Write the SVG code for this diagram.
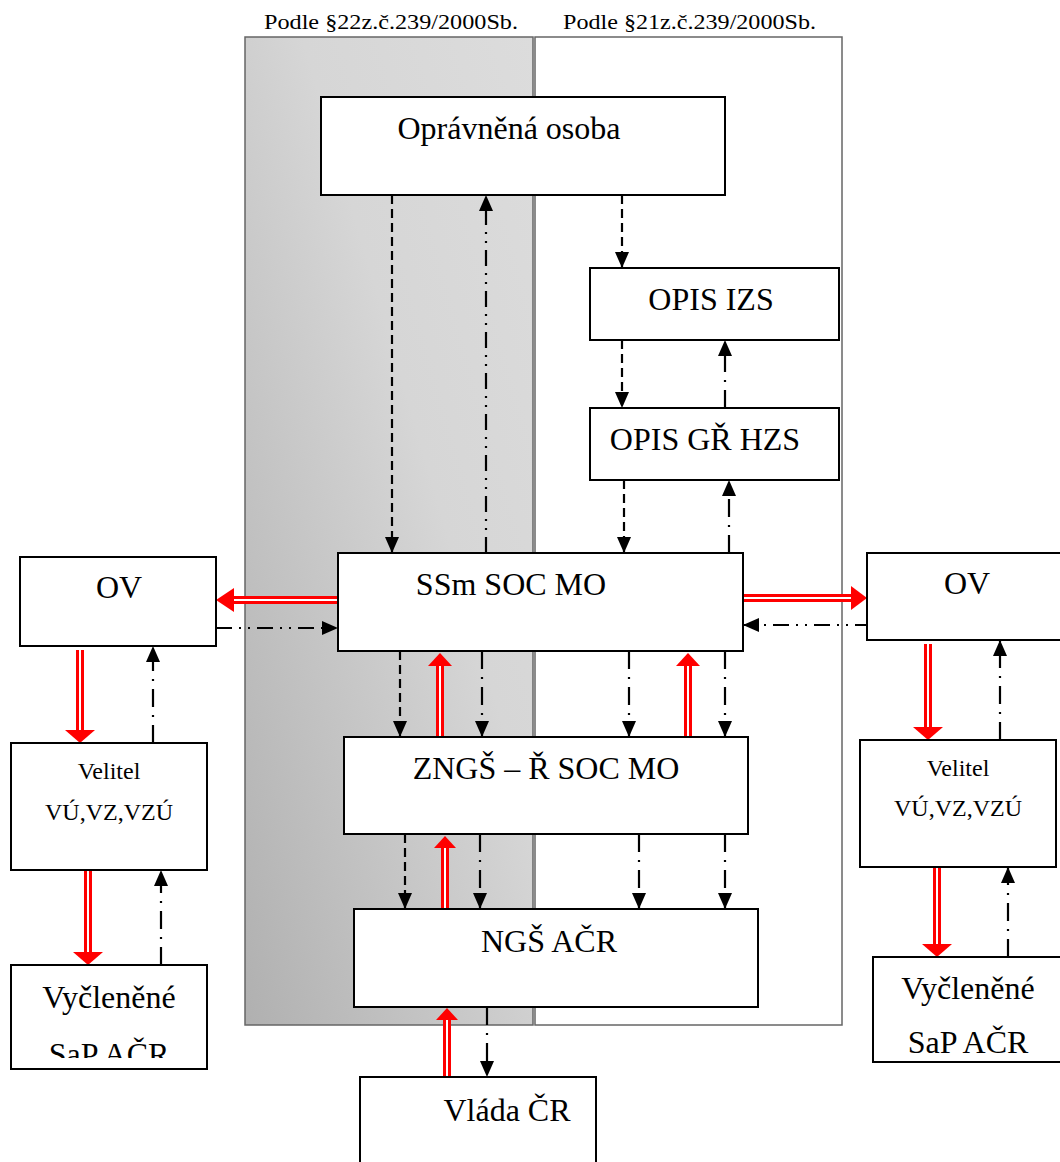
<svg xmlns="http://www.w3.org/2000/svg" width="1060" height="1162" viewBox="0 0 1060 1162">
<style>
.box{fill:#fff;stroke:#000;stroke-width:2}
.t{font-family:"Liberation Serif","Times New Roman",serif;fill:#000;text-anchor:middle}
.big{font-size:32px}
.sm{font-size:24px}
.hd{font-family:"Liberation Serif","Times New Roman",serif;font-size:22px;fill:#000}
.c{fill:none;stroke:#000;stroke-width:2.2}
.dash{stroke-dasharray:9 5}
.dd{stroke-dasharray:16 7 2 7 2 7}
.dot{stroke-dasharray:18 8 2 8}
.rw{fill:none;stroke:#f00;stroke-width:8}
.ri{fill:none;stroke:#fff;stroke-width:2}
.rh{fill:#f00}
</style>
<defs>
<linearGradient id="g" x1="0" y1="1" x2="1" y2="0">
<stop offset="0" stop-color="#b0b0b0"/>
<stop offset="0.6" stop-color="#d6d6d6"/>
<stop offset="1" stop-color="#dcdcdc"/>
</linearGradient>
<marker id="a" markerUnits="userSpaceOnUse" markerWidth="16" markerHeight="16" viewBox="0 0 16 14" refX="16" refY="7" orient="auto">
<path d="M0,0 L16,7 L0,14 z" fill="#000"/>
</marker>
<clipPath id="cl"><rect x="11" y="965" width="196" height="93"/></clipPath>
</defs>
<g id="panels">
<rect x="245" y="37" width="288" height="988" fill="url(#g)" stroke="#666" stroke-width="1.5"/>
<rect x="535" y="37" width="307" height="988" fill="#fff" stroke="#666" stroke-width="1.5"/>
<text class="hd" x="264" y="29" textLength="254" lengthAdjust="spacingAndGlyphs">Podle §22z.č.239/2000Sb.</text>
<text class="hd" x="563" y="29" textLength="253" lengthAdjust="spacingAndGlyphs">Podle §21z.č.239/2000Sb.</text>
</g>
<g id="connectors">
<path class="c dash" d="M392,195 V553" marker-end="url(#a)"/>
<path class="c dd" d="M486,553 V195" marker-end="url(#a)"/>
<path class="c dash" d="M622,195 V268" marker-end="url(#a)"/>
<path class="c dash" d="M622,340 V408" marker-end="url(#a)"/>
<path class="c dot" d="M725,408 V340" marker-end="url(#a)"/>
<path class="c dash" d="M624,480 V553" marker-end="url(#a)"/>
<path class="c dot" d="M729,553 V480" marker-end="url(#a)"/>
<path class="c dd" d="M216,628 H338" marker-end="url(#a)"/>
<path class="c dd" d="M871,625 H743" marker-end="url(#a)"/>
<path class="c dash" d="M400,651 V737" marker-end="url(#a)"/>
<path class="c dot" d="M482,651 V737" marker-end="url(#a)"/>
<path class="c dot" d="M629,651 V737" marker-end="url(#a)"/>
<path class="c dot" d="M725,651 V737" marker-end="url(#a)"/>
<path class="c dash" d="M405,834 V909" marker-end="url(#a)"/>
<path class="c dot" d="M480,834 V909" marker-end="url(#a)"/>
<path class="c dot" d="M639,834 V909" marker-end="url(#a)"/>
<path class="c dot" d="M725,834 V909" marker-end="url(#a)"/>
<path class="c dot" d="M487,1007 V1077" marker-end="url(#a)"/>
<path class="c dot" d="M153,743 V646" marker-end="url(#a)"/>
<path class="c dot" d="M161,965 V870" marker-end="url(#a)"/>
<path class="c dot" d="M1000,740 V640" marker-end="url(#a)"/>
<path class="c dot" d="M1008,957 V867" marker-end="url(#a)"/>
<path class="rw" d="M338,600 H234"/><path class="ri" d="M338,600 H232"/><polygon class="rh" points="234,588 216,600 234,612"/>
<path class="rw" d="M743,598 H851"/><path class="ri" d="M743,598 H853"/><polygon class="rh" points="851,586 867,598 851,610"/>
<path class="rw" d="M440,737 V666"/><path class="ri" d="M440,737 V664"/><polygon class="rh" points="428,666 440,653 452,666"/>
<path class="rw" d="M688,737 V666"/><path class="ri" d="M688,737 V664"/><polygon class="rh" points="676,666 688,653 700,666"/>
<path class="rw" d="M445,909 V848"/><path class="ri" d="M445,909 V846"/><polygon class="rh" points="434,848 445,836 456,848"/>
<path class="rw" d="M447,1077 V1020"/><path class="ri" d="M447,1077 V1018"/><polygon class="rh" points="436,1020 447,1008 458,1020"/>
<path class="rw" d="M80,650 V730"/><path class="ri" d="M80,650 V732"/><polygon class="rh" points="65,730 80,743 95,730"/>
<path class="rw" d="M88,870 V952"/><path class="ri" d="M88,870 V954"/><polygon class="rh" points="73,952 88,965 103,952"/>
<path class="rw" d="M928,644 V727"/><path class="ri" d="M928,644 V729"/><polygon class="rh" points="913,727 928,740 943,727"/>
<path class="rw" d="M937,867 V944"/><path class="ri" d="M937,867 V946"/><polygon class="rh" points="922,944 937,957 952,944"/>
</g>
<g id="n-opravnena"><rect class="box" x="321" y="97" width="404" height="98"/><text class="t big" x="509" y="139">Oprávněná osoba</text></g>
<g id="n-opisizs"><rect class="box" x="590" y="268" width="249" height="72"/><text class="t big" x="711" y="310">OPIS IZS</text></g>
<g id="n-opisgr"><rect class="box" x="590" y="408" width="249" height="72"/><text class="t big" x="705" y="450">OPIS GŘ HZS</text></g>
<g id="n-ssm"><rect class="box" x="338" y="553" width="405" height="98"/><text class="t big" x="511" y="595">SSm SOC MO</text></g>
<g id="n-ov-l"><rect class="box" x="20" y="557" width="196" height="89"/><text class="t big" x="119" y="598">OV</text></g>
<g id="n-ov-r"><rect class="box" x="867" y="553" width="200" height="87"/><text class="t big" x="967" y="594">OV</text></g>
<g id="n-zngs"><rect class="box" x="344" y="737" width="404" height="97"/><text class="t big" x="546" y="779">ZNGŠ – Ř SOC MO</text></g>
<g id="n-ngs"><rect class="box" x="354" y="909" width="404" height="98"/><text class="t big" x="549" y="952">NGŠ AČR</text></g>
<g id="n-vel-l"><rect class="box" x="11" y="743" width="196" height="127"/><text class="t sm" x="109" y="779">Velitel</text><text class="t sm" x="109" y="820">VÚ,VZ,VZÚ</text></g>
<g id="n-vel-r"><rect class="box" x="860" y="740" width="196" height="127"/><text class="t sm" x="958" y="776">Velitel</text><text class="t sm" x="958" y="816">VÚ,VZ,VZÚ</text></g>
<g id="n-vyc-l"><rect class="box" x="11" y="965" width="196" height="104"/><g clip-path="url(#cl)"><text class="t big" x="109" y="1008">Vyčleněné</text><text class="t big" x="109" y="1065">SaP AČR</text></g></g>
<g id="n-vyc-r"><rect class="box" x="873" y="957" width="192" height="105"/><text class="t big" x="968" y="999">Vyčleněné</text><text class="t big" x="968" y="1053">SaP AČR</text></g>
<g id="n-vlada"><rect class="box" x="360" y="1077" width="236" height="100"/><text class="t big" x="507" y="1121">Vláda ČR</text></g>
</svg>
